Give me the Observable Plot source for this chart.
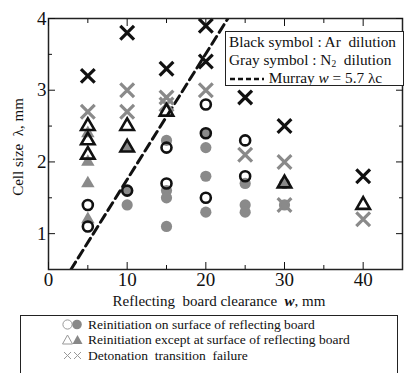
<!DOCTYPE html>
<html><head><meta charset="utf-8">
<script src="https://cdn.jsdelivr.net/npm/d3@7"></script>
<script src="https://cdn.jsdelivr.net/npm/@observablehq/plot@0.6"></script>
<style>
body{margin:0;background:#fff;font-family:"Liberation Serif","Times New Roman",serif;color:#111;}
svg text, svg tspan{font-family:"Liberation Serif","Times New Roman",serif !important;}
[aria-label="x-axis tick label"], [aria-label="x-axis tick label"] text,
[aria-label="y-axis tick label"], [aria-label="y-axis tick label"] text{font-size:19px !important;}
#wrap{position:relative;width:418px;height:373px;overflow:hidden;}
#inleg{position:absolute;left:225px;top:31px;width:179px;height:55px;border:1.3px solid #222;background:#fff;font-size:15.3px;box-sizing:border-box;white-space:nowrap;overflow:hidden;}
#inleg .ln{position:absolute;left:3px;height:17px;line-height:17px;}
#inleg .sub{position:relative;top:2px;font-size:9.5px;line-height:0;}
#botleg{position:absolute;left:20px;top:315px;width:378px;height:70px;border:1px solid #222;box-sizing:border-box;font-size:13.5px;}
#botleg .row{position:absolute;left:0;height:15px;line-height:15px;}
#botleg .txt{position:absolute;left:67px;white-space:pre;}
</style></head><body><div id="wrap"></div><script>
// data (w in mm, lambda in mm)
const blackCircleW = [5, 5, 10, 15, 15, 20, 20, 20, 25, 25];
const blackCircleL = [1.4, 1.1, 1.6, 2.2, 1.7, 2.8, 2.4, 1.5, 2.3, 1.8];
const grayCircleW = [10, 10, 15, 15, 15, 15, 20, 20, 20, 20, 25, 25, 25, 30, 30];
const grayCircleL = [1.6, 1.4, 2.3, 1.6, 1.5, 1.1, 2.4, 2.2, 1.8, 1.3, 1.7, 1.4, 1.3, 1.7, 1.4];
const blackTriW = [5, 5, 5, 10, 10, 15, 30, 40];
const blackTriL = [2.5, 2.3, 2.1, 2.5, 2.2, 2.7, 1.7, 1.4];
const grayTriW = [5, 5, 5, 5, 10];
const grayTriL = [2.4, 2.0, 1.7, 1.2, 2.2];
const blackXW = [5, 10, 15, 20, 20, 25, 30, 40];
const blackXL = [3.2, 3.8, 3.3, 3.9, 3.4, 2.9, 2.5, 1.8];
const grayXW = [5, 10, 10, 15, 15, 20, 25, 30, 30, 40];
const grayXL = [2.7, 3.0, 2.7, 2.9, 2.8, 3.0, 2.1, 2.0, 1.4, 1.2];
const murrayCoef = 5.7;
const murrayW = [0, 45];
const xTicks = [0, 10, 20, 30, 40];
const xMinor = [5, 15, 25, 35];
const yTicks = [1, 2, 3, 4];
const yMinor = [1.5, 2.5, 3.5];

const pts = (ws, ls) => ws.map((w, i) => ({w, l: ls[i]}));
const murray = murrayW.map(w => ({w, l: w / murrayCoef}));
const GRAY = "#8a8a8a", BLACK = "#111";
const FONT = "Liberation Serif, Times New Roman, serif";
const fmt = d => String(d);
const blank = () => "";

const chart = Plot.plot({
  width: 418, height: 315,
  marginLeft: 48, marginRight: 16, marginTop: 18, marginBottom: 46,
  style: {fontFamily: FONT, fontSize: "19px", color: "#111", background: "transparent", overflow: "visible"},
  x: {domain: [0, 45]},
  y: {domain: [0.5, 4]},
  marks: [
    Plot.line(murray, {x: "w", y: "l", stroke: BLACK, strokeWidth: 3, strokeDasharray: "9,5", clip: true}),
    Plot.dot(pts(grayCircleW, grayCircleL), {x: "w", y: "l", symbol: "circle", r: 5.6, fill: GRAY}),
    Plot.dot(pts(grayTriW, grayTriL), {x: "w", y: "l", symbol: "triangle", r: 5, fill: GRAY}),
    Plot.dot(pts(grayXW, grayXL), {x: "w", y: "l", symbol: "times", r: 6.3, stroke: GRAY, strokeWidth: 3.2}),
    Plot.dot(pts(blackCircleW, blackCircleL), {x: "w", y: "l", symbol: "circle", r: 5, stroke: BLACK, strokeWidth: 2.6}),
    Plot.dot(pts(blackTriW, blackTriL), {x: "w", y: "l", symbol: "triangle", r: 5, stroke: BLACK, strokeWidth: 2.6}),
    Plot.dot(pts(blackXW, blackXL), {x: "w", y: "l", symbol: "times", r: 6.3, stroke: BLACK, strokeWidth: 3.2}),
    Plot.frame({stroke: "#222", strokeWidth: 1.5}),
    Plot.axisX({anchor: "bottom", ticks: xTicks, tickSize: 0, tickPadding: 3, tickFormat: fmt, label: null}),
    Plot.axisY({anchor: "left", ticks: yTicks, tickSize: 0, tickPadding: 2, tickFormat: fmt, label: null}),
    Plot.axisX({anchor: "bottom", ticks: xTicks, tickSize: -7, tickFormat: blank, label: null}),
    Plot.axisX({anchor: "bottom", ticks: xMinor, tickSize: -4, tickFormat: blank, label: null}),
    Plot.axisX({anchor: "top", ticks: xTicks, tickSize: -7, tickFormat: blank, label: null}),
    Plot.axisX({anchor: "top", ticks: xMinor, tickSize: -4, tickFormat: blank, label: null}),
    Plot.axisY({anchor: "left", ticks: yTicks, tickSize: -7, tickFormat: blank, label: null}),
    Plot.axisY({anchor: "left", ticks: yMinor, tickSize: -4, tickFormat: blank, label: null}),
    Plot.axisY({anchor: "right", ticks: yTicks, tickSize: -7, tickFormat: blank, label: null}),
    Plot.axisY({anchor: "right", ticks: yMinor, tickSize: -4, tickFormat: blank, label: null})
  ]
});

const wrap = document.getElementById("wrap");
wrap.appendChild(chart);

// axis labels with mixed styles
const svg = d3.select(chart);
const xl = svg.append("text").attr("x", 219).attr("y", 306).attr("text-anchor", "middle")
  .attr("font-size", 15).attr("font-family", FONT).attr("fill", "#111").attr("xml:space", "preserve");
xl.append("tspan").text("Reflecting  board clearance  ");
xl.append("tspan").attr("font-weight", "bold").attr("font-style", "italic").text("w");
xl.append("tspan").text(", mm");
svg.append("text").attr("transform", "translate(23,147) rotate(-90)").attr("text-anchor", "middle")
  .attr("font-size", 15).attr("font-family", FONT).attr("fill", "#111").attr("xml:space", "preserve").text("Cell size  λ, mm");

// in-plot legend
const inleg = document.createElement("div");
inleg.id = "inleg";
const legLines = [
  'Black symbol : Ar&nbsp; dilution',
  'Gray symbol : N<span class="sub">2</span>&nbsp; dilution',
  '<svg width="36" height="8" style="vertical-align:middle"><line x1="1" x2="35" y1="4" y2="4" stroke="#111" stroke-width="2.5" stroke-dasharray="5,3"/></svg> Murray <i>w</i> = 5.7 λc'
];
legLines.forEach((h, i) => {
  const d = document.createElement("div");
  d.className = "ln";
  d.style.top = (1 + i * 18) + "px";
  d.innerHTML = h;
  inleg.appendChild(d);
});
wrap.appendChild(inleg);

// bottom legend
const bot = document.createElement("div");
bot.id = "botleg";
const rows = [
  {t: "Reinitiation on surface of reflecting board", s: '<circle cx="5.5" cy="7.5" r="4.6" fill="none" stroke="#999" stroke-width="1"/><circle cx="15" cy="7.5" r="4.8" fill="#888"/>'},
  {t: "Reinitiation except at surface of reflecting board", s: '<path d="M5.5,3 L10.5,12 L0.5,12 Z" fill="none" stroke="#999" stroke-width="1"/><path d="M15.5,3 L20.5,12 L10.5,12 Z" fill="#888"/>'},
  {t: "Detonation  transition  failure", s: '<path d="M2,4 L9,11 M9,4 L2,11 M12,4 L19,11 M19,4 L12,11" stroke="#999" stroke-width="1"/>'}
];
rows.forEach((r, i) => {
  const d = document.createElement("div");
  d.className = "row";
  d.style.top = (0.5 + i * 15.5) + "px";
  d.style.width = "370px";
  d.innerHTML = '<svg width="22" height="15" style="position:absolute;left:41px;top:0">' + r.s + '</svg><span class="txt">' + r.t + '</span>';
  bot.appendChild(d);
});
wrap.appendChild(bot);
</script></body></html>
